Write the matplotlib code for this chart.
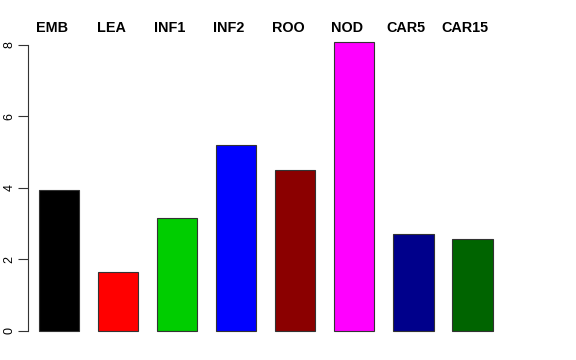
import matplotlib
matplotlib.use("Agg")
import matplotlib.pyplot as plt
import numpy as np

# tissue names and values
tissues = ['EMB', 'LEA', 'INF1', 'INF2', 'ROO', 'NOD', 'CAR5', 'CAR15']
values = [3.92, 1.65, 3.16, 5.20, 4.48, 8.06, 2.71, 2.55]
colors = ['black', 'red', '#00CD00', 'blue', '#8B0000', 'magenta', '#00008B', '#006400']

plt.rcParams['font.family'] = ['Liberation Sans', 'DejaVu Sans']

fig = plt.figure(figsize=(5.76, 3.6), dpi=100)
ax = fig.add_axes([28 / 576, 18 / 360, (510 - 28) / 576, (329 - 18) / 360])

# bar positions: spacing 1.2, width a bit narrower than the step
centers = 0.63 + 1.2 * np.arange(len(values))
ax.bar(centers, values, width=0.83, color=colors, edgecolor='#333333', linewidth=0.8)

ax.set_xlim(0, 9.8)
ax.set_ylim(-0.32, 8.38)

for s in ['top', 'right', 'bottom']:
    ax.spines[s].set_visible(False)
ax.spines['left'].set_bounds(0, 8)
ax.spines['left'].set_color('#333333')
ax.set_xticks([])
ax.set_yticks([0, 2, 4, 6, 8])
ax.tick_params(axis='y', length=7, width=0.8, color='#333333', labelsize=9, pad=2)
for lab in ax.get_yticklabels():
    lab.set_rotation(90)
    lab.set_va('center')

# names above the bars
for c, name in zip(centers, tissues):
    ax.text(c - 0.14, 8.34, name, ha='center', va='baseline', fontsize=10.4,
            fontweight='bold', clip_on=False)

fig.savefig('out.png', dpi=100)
